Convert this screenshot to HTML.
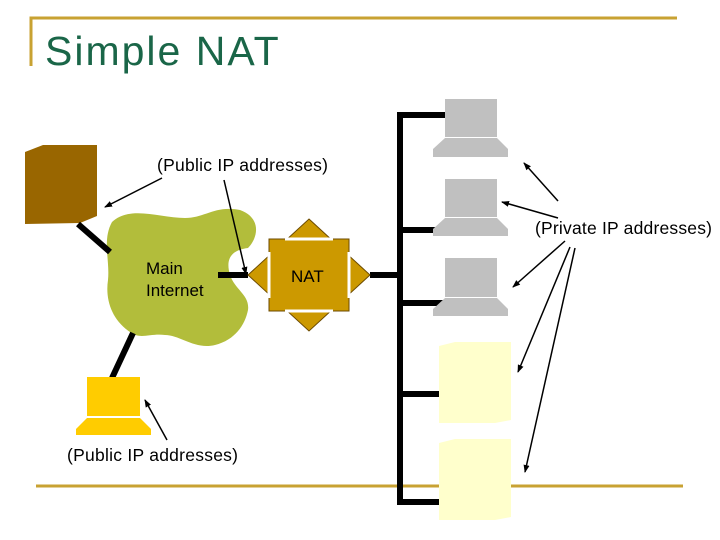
<!DOCTYPE html>
<html><head><style>
body{margin:0;width:720px;height:540px;background:#fff;overflow:hidden}
svg{display:block}
text{font-family:"Liberation Sans",sans-serif;fill:#000}
</style></head><body>
<svg width="720" height="540" viewBox="0 0 720 540">
<defs><marker id="a" markerWidth="8" markerHeight="8" refX="7" refY="4" orient="auto" markerUnits="userSpaceOnUse"><path d="M0,1 L8,4 L0,7z" fill="#000"/></marker></defs>
<path d="M31,66 V18 H677" fill="none" stroke="#c8a232" stroke-width="3"/>
<text x="45" y="65" font-size="41" letter-spacing="2" style="fill:#1a6648">Simple NAT</text>
<line x1="36" y1="486" x2="683" y2="486" stroke="#c8a232" stroke-width="3"/>
<path d="M25,152 L43,145 L97,145 L97,216 L80,223 L25,224z" fill="#996600"/>
<path d="M112,222 C130,205 160,218 185,218 C205,218 215,205 240,210 C262,218 258,238 248,248 C232,250 225,258 230,275 C235,290 250,295 248,310 C245,325 235,340 215,345 C195,350 180,335 165,335 C150,333 140,340 130,332 C112,320 105,300 108,280 C110,260 102,240 112,222z" fill="#b2bd3b"/>
<g stroke="#000" stroke-width="6" fill="none">
<line x1="78" y1="224" x2="110" y2="252"/>
<line x1="133" y1="333" x2="112" y2="378"/>
<line x1="218" y1="275" x2="248" y2="275"/>
<line x1="370" y1="275" x2="400" y2="275"/>
<path d="M445,115 H400 V502 H445"/>
<line x1="400" y1="230" x2="445" y2="230"/>
<line x1="400" y1="303" x2="445" y2="303"/>
<line x1="400" y1="394" x2="445" y2="394"/>
</g>
<path d="M309,219 L370,275 L309,331 L248,275z" fill="#cc9900" stroke="#6b4a00" stroke-width="1"/>
<rect x="269" y="239" width="80" height="72" fill="#cc9900" stroke="#6b4a00"/>
<g stroke="#fff" stroke-width="3">
<line x1="285" y1="239" x2="333" y2="239"/><line x1="285" y1="311" x2="333" y2="311"/>
<line x1="269" y1="252" x2="269" y2="298"/><line x1="349" y1="252" x2="349" y2="298"/>
</g>
<text x="291" y="282" font-size="17">NAT</text>
<g fill="#c0c0c0">
<rect x="445" y="99" width="52" height="38"/><path d="M445,138 H497 L508,149 V157 H433 V149z"/>
<rect x="445" y="179" width="52" height="38"/><path d="M445,218 H497 L508,229 V236 H433 V229z"/>
<rect x="445" y="258" width="52" height="39"/><path d="M445,298 H497 L508,309 V316 H433 V309z"/>
</g>
<g fill="#ffffcc">
<path d="M439,346 L455,342 H511 V420 L495,423 H439z"/>
<path d="M439,443 L455,439 H511 V517 L495,520 H439z"/>
</g>
<g fill="#ffcc00">
<rect x="87" y="377" width="53" height="39"/><path d="M87,418 H140 L151,429 V435 H76 V429z"/>
</g>
<text x="157" y="171" font-size="17.5" textLength="171">(Public IP addresses)</text>
<text x="535" y="234" font-size="17.5" textLength="177">(Private IP addresses)</text>
<text x="146" y="274" font-size="17">Main</text>
<text x="146" y="296" font-size="17">Internet</text>
<text x="67" y="461" font-size="17.5" textLength="171">(Public IP addresses)</text>
<g stroke="#000" stroke-width="1.5" marker-end="url(#a)">
<line x1="162" y1="178" x2="105" y2="207"/>
<line x1="224" y1="180" x2="246" y2="274"/>
<line x1="558" y1="201" x2="524" y2="163"/>
<line x1="558" y1="218" x2="502" y2="202"/>
<line x1="565" y1="241" x2="513" y2="287"/>
<line x1="570" y1="247" x2="518" y2="372"/>
<line x1="575" y1="248" x2="525" y2="472"/>
<line x1="167" y1="440" x2="145" y2="400"/>
</g>
</svg>
</body></html>
